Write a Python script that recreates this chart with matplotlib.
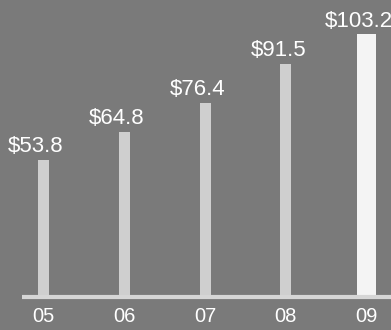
import matplotlib
matplotlib.use('Agg')
from matplotlib import pyplot as plt

years = ['05', '06', '07', '08', '09']
values = [53.8, 64.8, 76.4, 91.5, 103.2]
labels = ['$53.8', '$64.8', '$76.4', '$91.5', '$103.2']

bg_color = '#7a7a7a'
bar_colors = ['#cfcfcf', '#cfcfcf', '#cfcfcf', '#cfcfcf', '#f4f4f4']
bar_widths = [0.136, 0.136, 0.136, 0.136, 0.235]

plt.rcParams['font.family'] = ['Liberation Sans', 'DejaVu Sans']

fig = plt.figure(figsize=(3.91, 3.30), dpi=100, facecolor=bg_color)
ax = fig.add_axes([0, 0, 1, 1])
ax.set_facecolor(bg_color)

x = list(range(len(years)))
ax.bar(x, values, width=bar_widths, color=bar_colors, linewidth=0, zorder=2)

# 바닥 기준선
ax.plot([-0.27, 4.6], [0, 0], color='#d6d6d6', linewidth=3.0, solid_capstyle='butt', zorder=3)

for i in x:
    ax.annotate(labels[i], (x[i], values[i]), xytext=(-5.5, 2), textcoords='offset points',
                ha='center', va='bottom', color='white', fontsize=16)
    ax.text(x[i], -7.66, years[i], ha='center', va='center', color='white', fontsize=14.5)

ax.set_xlim(-0.538, 4.30)
ax.set_ylim(-12.97, 116.7)
ax.axis('off')

plt.savefig('out.png', dpi=100, facecolor=bg_color)
